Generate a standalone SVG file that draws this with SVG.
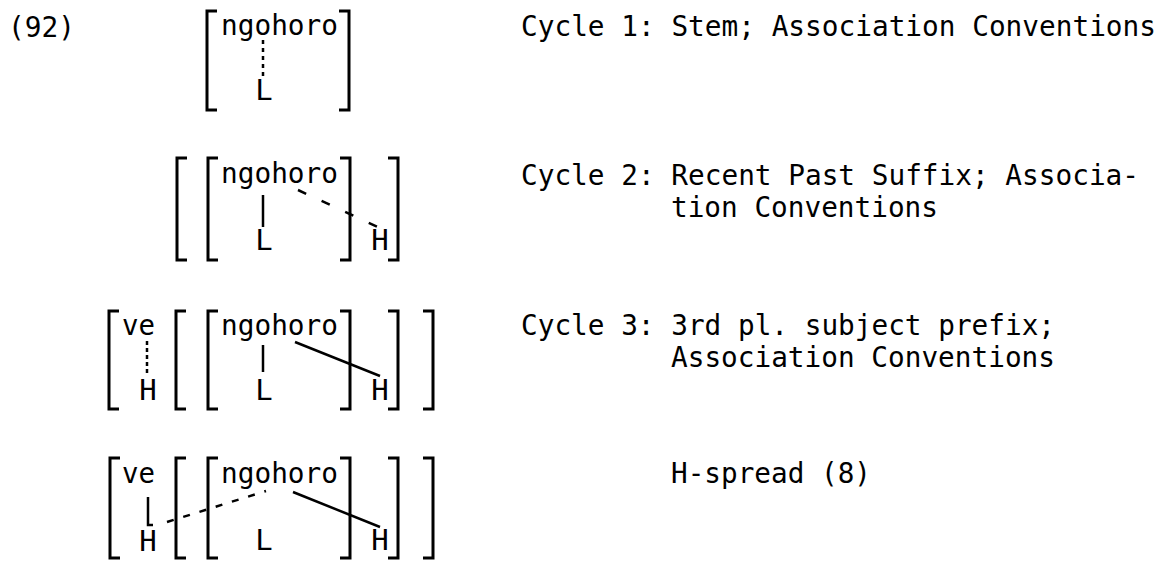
<svg xmlns="http://www.w3.org/2000/svg" width="1161" height="563" viewBox="0 0 1161 563">
<style>
text{font-family:"DejaVu Sans Mono","Liberation Mono",monospace;font-size:29px;fill:#000}
.c{text-anchor:middle}
.br{fill:none;stroke:#000;stroke-width:3}
.ln{fill:none;stroke:#000;stroke-width:2.5}
.dot{stroke-dasharray:4 4}
.dsh{stroke-dasharray:9 17}
.dsh2{stroke-dasharray:7 10}
</style>
<rect width="1161" height="563" fill="#fff"/>
<text x="8" y="37" textLength="67" lengthAdjust="spacingAndGlyphs">(92)</text>

<g id="row1">
<path class="br" d="M217 11H207V110H217"/>
<path class="br" d="M339 11H349V110H339"/>
<text x="221" y="35" textLength="117" lengthAdjust="spacingAndGlyphs">ngohoro</text>
<text class="c" x="264" y="100">L</text>
<text x="521" y="36" textLength="635" lengthAdjust="spacingAndGlyphs">Cycle 1: Stem; Association Conventions</text>
</g>

<g id="row2">
<path class="br" d="M187 158H177V260H187"/>
<path class="br" d="M218 158H208V260H218"/>
<path class="br" d="M340 158H350V260H340"/>
<path class="br" d="M388 158H398V260H388"/>
<text x="221" y="183" textLength="117" lengthAdjust="spacingAndGlyphs">ngohoro</text>
<text class="c" x="264" y="250">L</text>
<text class="c" x="380" y="250">H</text>
<text x="521" y="185" textLength="618" lengthAdjust="spacingAndGlyphs">Cycle 2: Recent Past Suffix; Associa-</text>
<text x="671" y="217" textLength="267" lengthAdjust="spacingAndGlyphs">tion Conventions</text>
</g>

<g id="row3">
<path class="br" d="M119 311H109V409H119"/>
<path class="br" d="M186 311H176V409H186"/>
<path class="br" d="M218 311H208V409H218"/>
<path class="br" d="M340 311H350V409H340"/>
<path class="br" d="M388 311H398V409H388"/>
<path class="br" d="M423 311H433V409H423"/>
<text x="122" y="335" textLength="33" lengthAdjust="spacingAndGlyphs">ve</text>
<text class="c" x="148" y="400">H</text>
<text x="221" y="335" textLength="117" lengthAdjust="spacingAndGlyphs">ngohoro</text>
<text class="c" x="264" y="400">L</text>
<text class="c" x="380" y="400">H</text>
<text x="521" y="335" textLength="534" lengthAdjust="spacingAndGlyphs">Cycle 3: 3rd pl. subject prefix;</text>
<text x="671" y="367" textLength="384" lengthAdjust="spacingAndGlyphs">Association Conventions</text>
</g>

<g id="row4">
<path class="br" d="M120 458H110V558H120"/>
<path class="br" d="M186 458H176V558H186"/>
<path class="br" d="M218 458H208V558H218"/>
<path class="br" d="M340 458H350V558H340"/>
<path class="br" d="M388 458H398V558H388"/>
<path class="br" d="M423 458H433V558H423"/>
<text x="122" y="483" textLength="33" lengthAdjust="spacingAndGlyphs">ve</text>
<text class="c" x="148" y="551">H</text>
<text x="221" y="483" textLength="117" lengthAdjust="spacingAndGlyphs">ngohoro</text>
<text class="c" x="264" y="550">L</text>
<text class="c" x="380" y="550">H</text>
<text x="671" y="483" textLength="200" lengthAdjust="spacingAndGlyphs">H-spread (8)</text>
</g>

<g id="connectors">
<line class="ln dot" x1="263" y1="40" x2="263" y2="80"/>
<line class="ln" x1="263" y1="195" x2="263" y2="227"/>
<line class="ln dsh" x1="298" y1="190" x2="382" y2="229"/>
<line class="ln dot" x1="147" y1="341" x2="147" y2="375" style="stroke-dasharray:4 3"/>
<line class="ln" x1="263" y1="345" x2="263" y2="372"/>
<line class="ln" x1="295" y1="342" x2="380" y2="376"/>
<path class="ln" d="M148 497V525H153"/>
<line class="ln dsh2" x1="167" y1="522" x2="266" y2="491"/>
<line class="ln" x1="293" y1="492" x2="380" y2="527"/>
</g>
</svg>
